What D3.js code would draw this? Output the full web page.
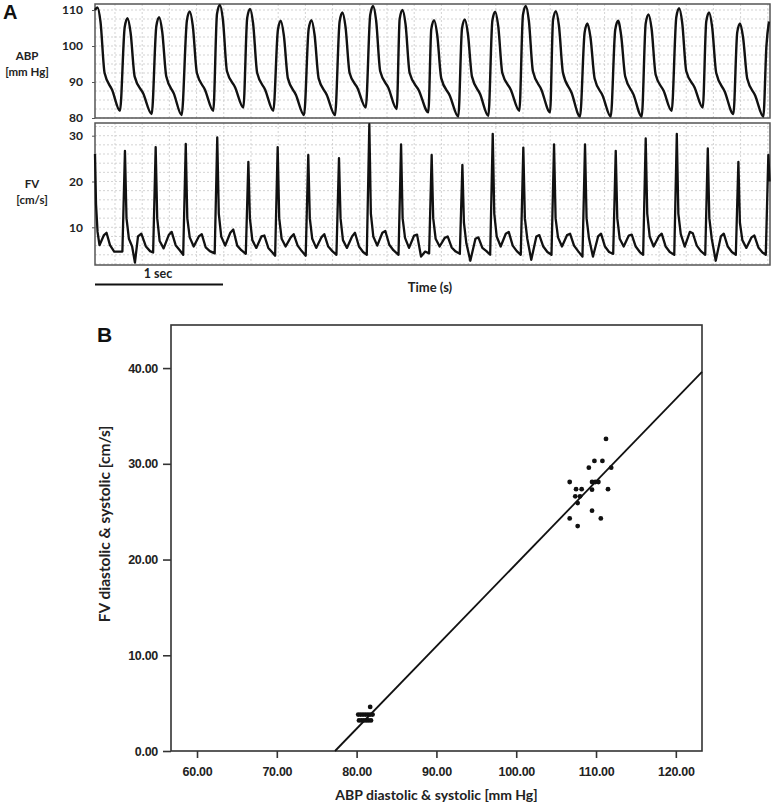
<!DOCTYPE html>
<html><head><meta charset="utf-8">
<script src="https://cdn.jsdelivr.net/npm/d3@7"></script>
<style>body{margin:0;background:#fff}svg{display:block}</style>
</head><body><svg id="c" width="774" height="808"></svg>
<script>
// ---------- Panel A data ----------
const abpTicks = [80, 90, 100, 110];
const fvTicks = [10, 20, 30];
// [time (s), ABP (mm Hg)]
const abpTrace = [
[0.000,110.0],[0.019,110.7],[0.043,106.7],[0.075,92.5],[0.135,87.7],[0.195,82.0],
[0.232,105.2],[0.254,107.7],[0.278,103.7],[0.310,91.5],[0.377,86.8],[0.443,81.1],
[0.479,105.5],[0.501,108.0],[0.525,104.0],[0.557,91.5],[0.617,86.7],[0.677,80.8],
[0.718,107.1],[0.740,109.6],[0.764,105.6],[0.796,92.5],[0.860,87.8],[0.924,82.0],
[0.953,108.9],[0.975,111.4],[0.999,107.4],[1.031,93.0],[1.095,88.5],[1.159,82.9],
[1.189,107.8],[1.211,110.3],[1.235,106.3],[1.267,92.5],[1.330,87.8],[1.393,82.0],
[1.429,104.5],[1.451,107.0],[1.475,103.0],[1.507,91.0],[1.570,86.4],[1.633,80.8],
[1.669,104.7],[1.691,107.2],[1.715,103.2],[1.747,91.0],[1.811,86.4],[1.875,80.8],
[1.911,106.8],[1.933,109.3],[1.957,105.3],[1.989,92.5],[2.052,88.2],[2.115,82.9],
[2.150,108.6],[2.172,111.1],[2.196,107.1],[2.228,93.0],[2.293,88.3],[2.357,82.5],
[2.380,107.5],[2.402,110.0],[2.426,106.0],[2.458,92.5],[2.531,87.6],[2.604,81.6],
[2.627,104.7],[2.649,107.2],[2.673,103.2],[2.705,91.0],[2.772,86.2],[2.838,80.4],
[2.867,104.9],[2.889,107.4],[2.913,103.4],[2.945,91.5],[3.009,86.6],[3.073,80.6],
[3.104,107.0],[3.126,109.5],[3.150,105.5],[3.182,92.5],[3.249,87.8],[3.315,82.0],
[3.343,108.6],[3.365,111.1],[3.389,107.1],[3.421,93.0],[3.488,87.8],[3.555,81.6],
[3.578,107.2],[3.600,109.7],[3.624,105.7],[3.656,92.5],[3.723,87.0],[3.789,80.4],
[3.825,103.8],[3.847,106.3],[3.871,102.3],[3.903,91.0],[3.966,86.2],[4.029,80.4],
[4.064,104.5],[4.086,107.0],[4.110,103.0],[4.142,91.5],[4.207,86.5],[4.271,80.4],
[4.302,106.3],[4.324,108.8],[4.348,104.8],[4.380,92.0],[4.443,87.5],[4.505,82.0],
[4.541,108.0],[4.563,110.5],[4.587,106.5],[4.619,93.0],[4.684,88.5],[4.748,82.9],
[4.775,106.8],[4.797,109.3],[4.821,105.3],[4.853,92.5],[4.920,87.3],[4.987,81.1],
[5.017,103.8],[5.039,106.3],[5.063,102.3],[5.095,91.0],[5.158,86.2],[5.221,80.4],
[5.245,100.0],[5.265,106.8]
];
// [time (s), FV (cm/s)]
const fvTrace = [
[0.000,26.0],[0.008,15.0],[0.020,9.0],[0.035,6.1],[0.070,8.3],[0.090,8.8],[0.117,6.1],[0.150,4.7],
[0.214,4.7],[0.234,26.7],[0.246,12.0],[0.265,7.5],[0.290,5.8],[0.312,2.3],[0.336,8.0],[0.362,8.6],[0.398,5.8],[0.430,4.8],
[0.454,4.5],[0.474,27.5],[0.486,12.0],[0.505,7.0],[0.536,5.4],[0.576,8.3],[0.599,9.0],[0.630,6.1],[0.662,5.0],
[0.689,4.0],[0.709,28.2],[0.721,12.0],[0.740,7.8],[0.771,5.8],[0.811,8.0],[0.834,8.5],[0.865,5.6],[0.897,4.8],
[0.935,4.3],[0.955,29.6],[0.967,13.0],[0.986,8.0],[1.017,6.0],[1.057,8.8],[1.080,9.5],[1.111,6.0],[1.143,5.0],
[1.178,4.2],[1.198,24.3],[1.210,12.0],[1.229,7.2],[1.260,5.5],[1.300,8.0],[1.323,8.2],[1.354,5.5],[1.386,4.5],
[1.407,3.8],[1.427,27.5],[1.439,12.0],[1.458,7.5],[1.489,5.8],[1.529,7.8],[1.552,8.5],[1.583,6.0],[1.615,4.8],
[1.646,3.8],[1.666,25.8],[1.678,12.0],[1.697,7.5],[1.728,5.5],[1.768,7.8],[1.791,8.5],[1.822,5.8],[1.854,4.8],
[1.886,4.0],[1.906,25.1],[1.918,12.0],[1.937,7.2],[1.968,5.5],[2.008,8.0],[2.031,8.8],[2.062,5.8],[2.094,4.6],
[2.123,4.0],[2.143,32.5],[2.155,13.0],[2.174,8.0],[2.205,6.0],[2.245,8.8],[2.268,9.2],[2.299,6.2],[2.331,5.0],
[2.371,4.0],[2.391,28.1],[2.403,12.0],[2.422,7.7],[2.453,5.5],[2.493,8.2],[2.516,8.4],[2.547,3.6],[2.579,4.7],
[2.610,4.3],[2.630,25.8],[2.642,12.0],[2.661,7.5],[2.692,5.8],[2.732,7.7],[2.755,8.0],[2.786,5.6],[2.818,4.7],
[2.850,4.2],[2.870,23.6],[2.882,11.0],[2.901,6.5],[2.932,2.7],[2.972,7.5],[2.995,7.8],[3.026,5.5],[3.058,4.8],
[3.087,4.0],[3.107,30.4],[3.119,13.0],[3.138,8.0],[3.169,5.8],[3.209,8.6],[3.232,9.0],[3.263,6.0],[3.295,4.8],
[3.326,4.0],[3.346,27.4],[3.358,12.0],[3.377,7.5],[3.408,2.9],[3.448,8.0],[3.471,8.3],[3.502,5.8],[3.534,4.6],
[3.566,4.0],[3.586,28.1],[3.598,12.0],[3.617,7.8],[3.648,5.8],[3.688,8.3],[3.711,8.6],[3.742,6.0],[3.774,4.8],
[3.808,3.6],[3.828,28.1],[3.840,12.0],[3.859,7.6],[3.890,3.6],[3.930,8.0],[3.953,8.6],[3.984,5.8],[4.016,4.6],
[4.048,4.2],[4.068,26.7],[4.080,12.0],[4.099,7.5],[4.130,5.8],[4.170,8.2],[4.193,8.4],[4.224,5.8],[4.256,4.6],
[4.282,4.0],[4.302,29.4],[4.314,13.0],[4.333,8.0],[4.364,5.8],[4.404,8.0],[4.427,8.6],[4.458,5.8],[4.490,4.6],
[4.525,4.0],[4.545,30.4],[4.557,13.0],[4.576,8.5],[4.607,5.8],[4.647,9.0],[4.670,8.7],[4.701,6.0],[4.733,4.8],
[4.767,4.0],[4.787,27.2],[4.799,12.0],[4.818,7.5],[4.849,2.7],[4.889,8.0],[4.912,8.6],[4.943,5.8],[4.975,4.6],
[5.006,4.0],[5.026,24.3],[5.038,11.0],[5.057,7.2],[5.088,5.5],[5.128,7.8],[5.151,8.2],[5.182,5.6],[5.214,4.5],
[5.240,4.0],[5.260,25.8],[5.270,20.0]
];
const timeDomain = [0, 5.273];
const scaleBarSec = 1;

// ---------- Panel B data ----------
const xTicksB = [60, 70, 80, 90, 100, 110, 120];
const yTicksB = [0, 10, 20, 30, 40];
const abpPoints = [80.2,80.5,80.8,81.1,81.4,81.7,82.0, 80.3,80.6,80.9,81.2,81.5,81.8, 81.7,
  111.25,109.8,110.8,109.1,111.9,106.7,109.5,109.9,110.3,107.5,108.2,109.5,111.5,107.4,108.0,107.7,109.5,106.7,110.6,107.7];
const fvPoints  = [3.81,3.81,3.81,3.81,3.81,3.81,3.81, 3.19,3.19,3.19,3.19,3.19,3.19, 4.6,
  32.6,30.3,30.3,29.6,29.6,28.1,28.1,28.1,28.1,27.35,27.35,27.3,27.35,26.6,26.6,25.9,25.1,24.3,24.3,23.5];
const fitSlope = 0.861, fitIntercept = -66.55;

// ---------- Drawing ----------
const svg = d3.select("#c");
const F = "Lato, 'Open Sans', sans-serif";
const FB = "'Liberation Sans', Arial, sans-serif";

// Panel A
const xT = d3.scaleLinear().domain(timeDomain).range([95, 770]);
const yA = d3.scaleLinear().domain([80, 111.67]).range([118, 4]);
const yF = d3.scaleLinear().domain([1.77, 32.77]).range([265, 123]);

function panel(yS, gridStep, ticks) {
  const g = svg.append("g");
  const [y1, y0] = yS.range();
  const hv = d3.range(Math.ceil(yS.domain()[0] / gridStep) * gridStep, yS.domain()[1], gridStep);
  g.selectAll("line.h").data(hv).join("line")
    .attr("x1", 95).attr("x2", 770).attr("y1", d => yS(d)).attr("y2", d => yS(d))
    .attr("stroke", "#c8c8c8").attr("stroke-width", 0.8).attr("stroke-dasharray", "2,2");
  const vv = d3.range(0.156, timeDomain[1], 0.2125);
  g.selectAll("line.v").data(vv).join("line")
    .attr("x1", d => xT(d)).attr("x2", d => xT(d)).attr("y1", y0).attr("y2", y1)
    .attr("stroke", "#c8c8c8").attr("stroke-width", 0.8).attr("stroke-dasharray", "2,2");
  g.append("rect").attr("x", 95).attr("y", y0).attr("width", 675).attr("height", y1 - y0)
    .attr("fill", "none").attr("stroke", "#555").attr("stroke-width", 1.5);
  const ax = g.append("g").attr("transform", "translate(95,0)")
    .call(d3.axisLeft(yS).tickValues(ticks).tickSize(3).tickPadding(9));
  ax.select(".domain").remove();
  ax.selectAll("line").attr("stroke", "#555");
  ax.selectAll("text").attr("font-family", F).attr("font-weight", 700).attr("font-size", 12).attr("fill", "#222");
  return g;
}
panel(yA, 2.5, abpTicks);
panel(yF, 2, fvTicks);

svg.append("path").datum(abpTrace)
  .attr("d", d3.line().x(d => xT(d[0])).y(d => yA(d[1])).curve(d3.curveMonotoneX))
  .attr("fill", "none").attr("stroke", "#111").attr("stroke-width", 2.4).attr("stroke-linejoin", "round");
svg.append("path").datum(fvTrace)
  .attr("d", d3.line().x(d => xT(d[0])).y(d => yF(d[1])))
  .attr("fill", "none").attr("stroke", "#111").attr("stroke-width", 2.3).attr("stroke-linejoin", "round");

function lbl(x, y, t, size, anchor, weight, fam) {
  return svg.append("text").attr("x", x).attr("y", y).text(t)
    .attr("font-family", fam || F).attr("font-size", size).attr("font-weight", weight || 700)
    .attr("text-anchor", anchor || "middle").attr("fill", "#222");
}
lbl(3, 19, "A", 20, "start", 700, FB).attr("fill", "#111");
lbl(27, 60, "ABP", 11.5);
lbl(27, 76, "[mm Hg]", 11.5);
lbl(32, 188, "FV", 11.5);
lbl(32, 204, "[cm/s]", 11.5);
svg.append("line").attr("x1", xT(0)).attr("x2", xT(scaleBarSec)).attr("y1", 284.5).attr("y2", 284.5)
  .attr("stroke", "#111").attr("stroke-width", 2.2);
lbl(158, 278, "1 sec", 12.5);
lbl(430, 292, "Time (s)", 13);

// Panel B
const xB = d3.scaleLinear().domain([56.74, 123.28]).range([171, 702]);
const yB = d3.scaleLinear().domain([0, 44.5]).range([751, 325]);
svg.append("rect").attr("x", 171).attr("y", 325).attr("width", 531).attr("height", 426)
  .attr("fill", "none").attr("stroke", "#333").attr("stroke-width", 1.6);
const fmt = d3.format(".2f");
const axL = svg.append("g").attr("transform", "translate(171,0)")
  .call(d3.axisLeft(yB).tickValues(yTicksB).tickFormat(fmt).tickSize(8).tickPadding(5));
const axB = svg.append("g").attr("transform", "translate(0,751)")
  .call(d3.axisBottom(xB).tickValues(xTicksB).tickFormat(fmt).tickSize(7).tickPadding(9));
[axL, axB].forEach(a => {
  a.select(".domain").remove();
  a.selectAll("line").attr("stroke", "#333").attr("stroke-width", 1.6);
  a.selectAll("text").attr("font-family", FB).attr("font-weight", 700).attr("font-size", 12.5)
    .attr("fill", "#222").style("letter-spacing", "-0.3px");
});
const x0 = -fitIntercept / fitSlope, x1 = xB.domain()[1];
svg.append("line").attr("x1", xB(x0)).attr("y1", yB(0))
  .attr("x2", xB(x1)).attr("y2", yB(fitSlope * x1 + fitIntercept))
  .attr("stroke", "#111").attr("stroke-width", 1.8);
svg.selectAll("circle.pt").data(abpPoints.map((v, i) => [v, fvPoints[i]])).join("circle")
  .attr("cx", d => xB(d[0])).attr("cy", d => yB(d[1])).attr("r", 2.4).attr("fill", "#111");
lbl(97, 342, "B", 21, "start", 700, FB).attr("fill", "#111");
lbl(436.5, 800, "ABP diastolic & systolic [mm Hg]", 14);
lbl(0, 0, "FV diastolic & systolic [cm/s]", 15.5).attr("transform", "translate(110,524) rotate(-90)");
</script></body></html>
